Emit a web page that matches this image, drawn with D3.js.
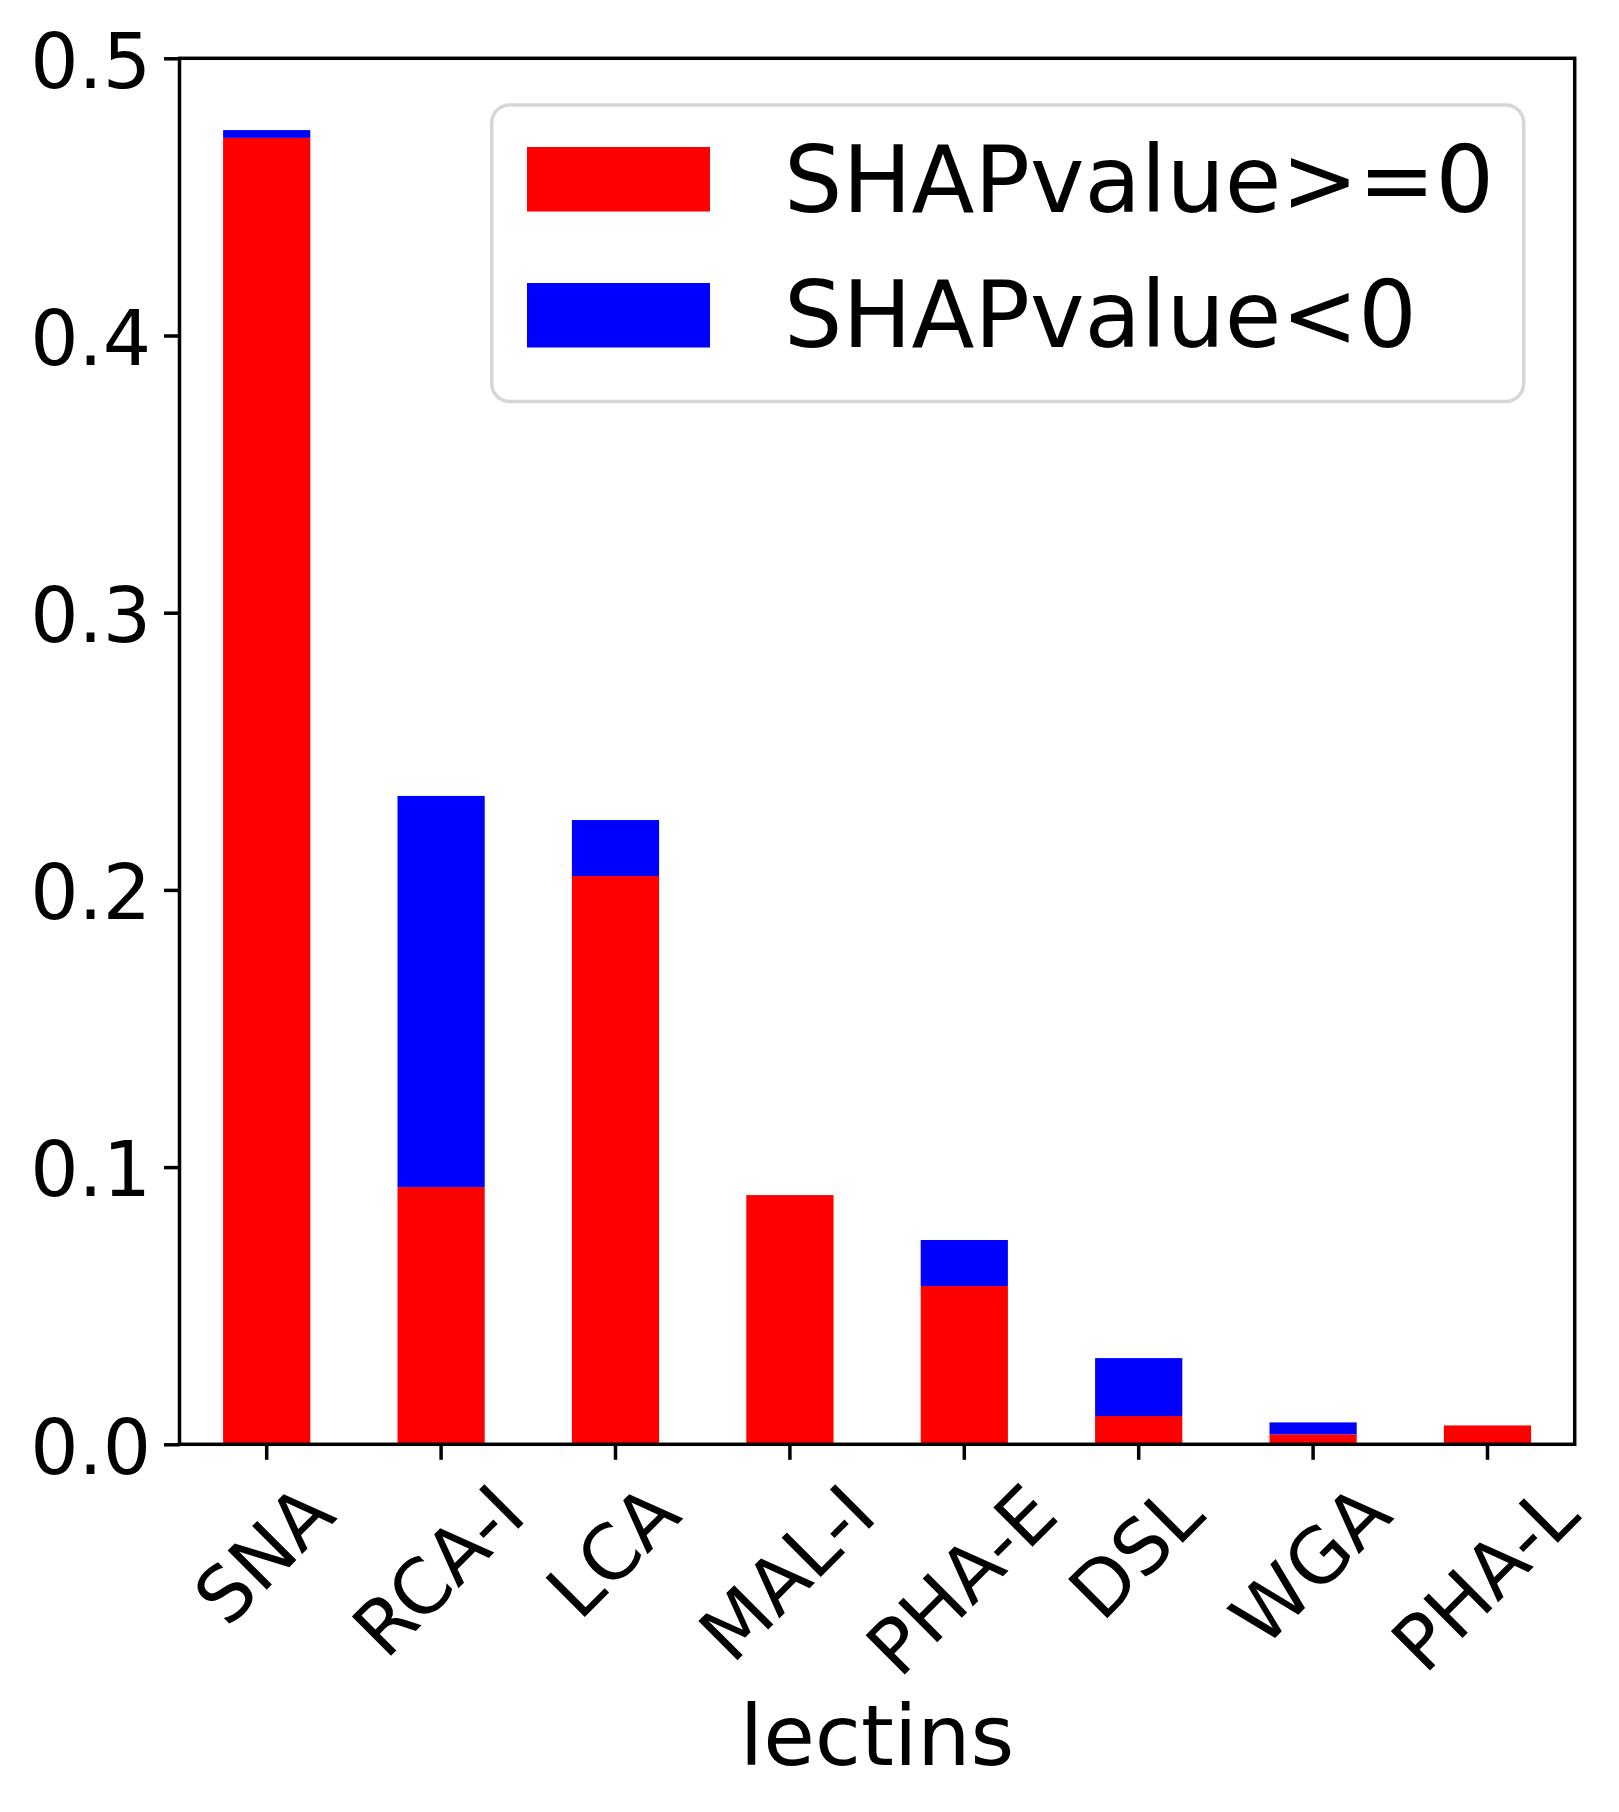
<!DOCTYPE html>
<html>
<head>
<meta charset="utf-8">
<script src="https://cdn.jsdelivr.net/npm/d3@7/dist/d3.min.js"></script>
<style>
  html, body { margin: 0; padding: 0; background: #fff; }
  svg { display: block; }
  text { font-family: "DejaVu Sans", sans-serif; fill: #000; }
</style>
</head>
<body>
<svg id="chart" width="1619" height="1812"></svg>
<script>
// ---- data ----
const lectins = ["SNA", "RCA-I", "LCA", "MAL-I", "PHA-E", "DSL", "WGA", "PHA-L"];
const shapPositive = [0.4713, 0.0928, 0.2050, 0.0899, 0.0571, 0.0102, 0.0036, 0.0068];
const shapNegative = [0.0028, 0.1411, 0.0202, 0.0000, 0.0166, 0.0209, 0.0043, 0.0000];
const yTicks = [0.0, 0.1, 0.2, 0.3, 0.4, 0.5];
const legendLabels = ["SHAPvalue>=0", "SHAPvalue<0"];
const seriesColors = ["#ff0000", "#0000ff"];
const xLabel = "lectins";

// ---- layout ----
const svg = d3.select("#chart");
const L = 179.5, R = 1574.7, T = 58.3, B = 1444.3;
const spineW = 3.5, tickLen = 15.5, pad = 15.5;
const tickFont = 76, labelFont = 84, legendFont = 92;

const x = d3.scaleBand().domain(lectins).range([L, R]).paddingInner(0.5).paddingOuter(0.25);
const y = d3.scaleLinear().domain([0, 0.5]).range([B, T]);

// bars
const rows = lectins.map((k, i) => ({ k, pos: shapPositive[i], neg: shapNegative[i] }));
const g = svg.append("g");
g.selectAll("rect.pos").data(rows).join("rect")
  .attr("class", "pos")
  .attr("x", d => x(d.k)).attr("width", x.bandwidth())
  .attr("y", d => y(d.pos)).attr("height", d => y(0) - y(d.pos))
  .attr("fill", seriesColors[0]);
g.selectAll("rect.neg").data(rows.filter(d => d.neg > 0)).join("rect")
  .attr("class", "neg")
  .attr("x", d => x(d.k)).attr("width", x.bandwidth())
  .attr("y", d => y(d.pos + d.neg)).attr("height", d => y(d.pos) - y(d.pos + d.neg))
  .attr("fill", seriesColors[1]);

// y axis
const yAxis = svg.append("g").attr("transform", `translate(${L},0)`)
  .call(d3.axisLeft(y).tickValues(yTicks).tickFormat(d3.format(".1f"))
    .tickSize(tickLen).tickPadding(pad - 2.5));
yAxis.select(".domain").remove();
yAxis.selectAll(".tick line").attr("stroke", "#000").attr("stroke-width", spineW);
yAxis.selectAll(".tick text")
  .style("font-size", tickFont + "px")
  .style("font-family", "DejaVu Sans")
  .attr("dy", "0.38em");

// x axis
const xAxis = svg.append("g").attr("transform", `translate(0,${B})`)
  .call(d3.axisBottom(x).tickSize(tickLen).tickPadding(pad));
xAxis.select(".domain").remove();
xAxis.selectAll(".tick line").attr("stroke", "#000").attr("stroke-width", spineW);
xAxis.selectAll(".tick text").each(function () {
  const t = d3.select(this);
  t.style("font-size", tickFont + "px").style("font-family", "DejaVu Sans")
   .attr("text-anchor", "middle").attr("y", null).attr("dy", null);
  const w = this.getComputedTextLength();
  const h = 0.99 * tickFont;
  const top = tickLen + pad;
  const cy = top + (w + h) / (2 * Math.SQRT2);
  t.attr("transform", `translate(0,${cy}) rotate(-45)`).attr("dy", "0.3em");
});

// spines
svg.append("rect")
  .attr("x", L).attr("y", T).attr("width", R - L).attr("height", B - T)
  .attr("fill", "none").attr("stroke", "#000").attr("stroke-width", spineW);

// x label
svg.append("text")
  .attr("x", (L + R) / 2).attr("y", 1765)
  .attr("text-anchor", "middle")
  .style("font-size", labelFont + "px")
  .text(xLabel);

// legend
const lg = svg.append("g");
lg.append("rect")
  .attr("x", 491.7).attr("y", 105).attr("width", 1032).attr("height", 296.5)
  .attr("rx", 18).attr("ry", 18)
  .attr("fill", "#fff").attr("fill-opacity", 0.8)
  .attr("stroke", "#d6d6d6").attr("stroke-width", 3.5);
const legendRows = legendLabels.map((lab, i) => ({ lab, color: seriesColors[i], i }));
const rowTop = [147, 283], rowBase = [212, 347];
lg.selectAll("rect.patch").data(legendRows).join("rect")
  .attr("class", "patch")
  .attr("x", 527).attr("width", 183)
  .attr("y", d => rowTop[d.i]).attr("height", 64.5)
  .attr("fill", d => d.color);
lg.selectAll("text.lab").data(legendRows).join("text")
  .attr("class", "lab")
  .attr("x", 784).attr("y", d => rowBase[d.i])
  .style("font-size", legendFont + "px")
  .text(d => d.lab);
</script>
</body>
</html>
